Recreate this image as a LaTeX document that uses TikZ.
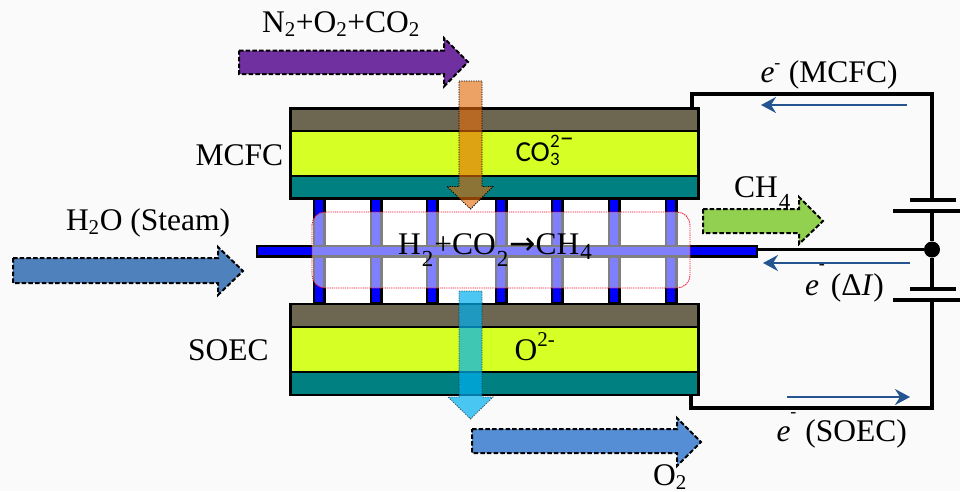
\documentclass[tikz,border=0pt]{standalone}
\usepackage{fontspec}
\setmainfont{Liberation Serif}
\newfontfamily\mathish{Carlito}
\newfontfamily\arrowf{DejaVu Sans}
\usetikzlibrary{arrows.meta}
\definecolor{bgc}{HTML}{FAFAFA}
\definecolor{brownc}{HTML}{6D6650}
\definecolor{yellowc}{HTML}{D5FF25}
\definecolor{tealc}{HTML}{008080}
\definecolor{ribc}{HTML}{0000FF}
\definecolor{bluewire}{HTML}{24558E}
\definecolor{zonec}{HTML}{F01030}
\tikzset{
  layer/.style={draw=black,line width=2.7pt,line join=miter},
  rib/.style={draw=black,fill=ribc,line width=2.2pt},
  wire/.style={draw=black,line width=3.8pt,line cap=butt,line join=miter},
  plate/.style={draw=black,line width=3.6pt},
  flow/.style={draw=black,line width=2pt,dash pattern=on 4.5pt off 2.2pt,line join=miter},
  thru/.style={draw=black,line width=.8pt,dash pattern=on 1.2pt off 1.2pt,line join=miter},
  current/.style={draw=bluewire,line width=2pt,-{Stealth[length=15pt,width=16pt,inset=5pt]}},
  lab/.style={inner sep=0pt,outer sep=0pt,font=\fontsize{31.5}{31.5}\selectfont,anchor=base west},
}
\newcommand{\sbb}[1]{\raisebox{-4.5pt}[0pt][0pt]{\fontsize{21}{21}\selectfont #1}\hspace{.6pt}}
\newcommand{\sbl}[1]{\hspace{1pt}\raisebox{-12.5pt}[0pt][0pt]{\fontsize{23}{23}\selectfont #1}\hspace{1pt}}
\newcommand{\sbn}[1]{\hspace{1pt}\raisebox{-5pt}[0pt][0pt]{\fontsize{23}{23}\selectfont #1}}
\newcommand{\spp}[1]{\raisebox{14pt}{\fontsize{21}{21}\selectfont #1}}
\begin{document}
\begin{tikzpicture}[x=1pt,y=-1pt]
\useasboundingbox (0,0) rectangle (960,491);
\fill[bgc] (0,0) rectangle (960,491);
% white cells
\fill[white] (319,199) rectangle (671,303);
% ribs
\foreach \x in {319,376,432,501,557,614,671}
  \draw[rib] (\x-5.4,199) rectangle (\x+5.4,303);
\draw[rib] (257,245.6) rectangle (757,256.4);
% MCFC
\draw[layer,fill=brownc] (290.3,108.8) rectangle (698.7,131);
\draw[layer,fill=yellowc] (290.3,131) rectangle (698.7,176);
\draw[layer,fill=tealc] (290.3,176) rectangle (698.7,198.5);
% SOEC
\draw[layer,fill=brownc] (290.3,304) rectangle (698.7,327);
\draw[layer,fill=yellowc] (290.3,327) rectangle (698.7,372);
\draw[layer,fill=tealc] (290.3,372) rectangle (698.7,395);
% reaction zone
\fill[white,fill opacity=.5,rounded corners=13pt] (312,212) rectangle (690,288);
\draw[zonec,line width=.9pt,dash pattern=on 1.3pt off .9pt,rounded corners=13pt] (312,212) rectangle (690,288);
% circuit
\coordinate (mcfcT) at (692,107);
\coordinate (tl) at (692,94);
\coordinate (tr) at (932,94);
\coordinate (p1) at (932,200);
\coordinate (p2) at (932,211);
\coordinate (p3) at (932,289);
\coordinate (p4) at (932,300);
\coordinate (br) at (932,408);
\coordinate (bl) at (691,408);
\coordinate (soecB) at (691,396);
\coordinate (stub) at (757,249.5);
\node[circle,fill=black,minimum size=16pt,inner sep=0pt] (dot) at (932,249.5) {};
\draw[wire] (mcfcT) -- (tl) -- (tr) -- (p1);
\draw[wire] (p2) -- (dot);
\draw[wire] (dot) -- (p3);
\draw[wire] (p4) -- (br) -- (bl) -- (soecB);
\draw[black,line width=3.4pt] (stub) -- (dot);
\draw[plate] (910,200) -- (956,200);
\draw[plate] (893,211) -- (960,211);
\draw[plate] (910,289) -- (956,289);
\draw[plate] (893,300) -- (960,300);
% current arrows
\coordinate (c1a) at (907,105); \coordinate (c1b) at (761,105);
\coordinate (c2a) at (910,263); \coordinate (c2b) at (763,263);
\coordinate (c3a) at (787,397); \coordinate (c3b) at (910,397);
\draw[current] (c1a) -- (c1b);
\draw[current] (c2a) -- (c2b);
\draw[current] (c3a) -- (c3b);
% block arrows
\draw[flow,fill={rgb,255:red,112;green,48;blue,160}] (239,50.5) -- (444,50.5) -- (444,38) -- (468,62) -- (444,86.5) -- (444,74) -- (239,74) -- cycle;
\draw[flow,fill={rgb,255:red,79;green,129;blue,189}] (13,258) -- (218,258) -- (218,247) -- (243,271) -- (218,295) -- (218,283) -- (13,283) -- cycle;
\draw[flow,fill={rgb,255:red,85;green,142;blue,213}] (472,429) -- (677,429) -- (677,418) -- (701,442) -- (677,466) -- (677,453) -- (472,453) -- cycle;
\draw[flow,fill={rgb,255:red,146;green,208;blue,80}] (703,209) -- (799,209) -- (799,197) -- (823,221) -- (799,244) -- (799,233) -- (703,233) -- cycle;
\draw[thru,fill={rgb,255:red,227;green,108;blue,9},fill opacity=.62] (459,81) -- (482,81) -- (482,186.5) -- (493,186.5) -- (470.5,209) -- (447,186.5) -- (459,186.5) -- cycle;
\draw[thru,draw opacity=.6,fill={rgb,255:red,0;green,176;blue,240},fill opacity=.7] (459,291) -- (482,291) -- (482,397) -- (493,397) -- (470.5,419) -- (448,397) -- (459,397) -- cycle;
% labels
\node[lab] (tN) at (262,32) {N\sbb{2}+O\sbb{2}+CO\sbb{2}};
\node[lab] (tM) at (195.5,165) {MCFC};
\node[lab] (tS) at (188,360) {SOEC};
\node[lab] (tW) at (66,230) {H\sbb{2}O (Steam)};
\node[lab] (tR) at (398,254) {H\sbl{2}+CO\sbl{2}{\arrowf →}CH\sbn{4}};
\node[lab] (tC) at (734,197) {CH\sbl{4}};
\node[lab] (tO) at (514.5,360.5) {O\spp{2-}};
\node[lab] (tOt) at (653,485) {O\sbb{2}};
\node[lab,font=\fontsize{29}{29}\mathish] (tCO) at (515.5,161) {CO};
\node[lab,font=\fontsize{19}{19}\mathish] (tCOa) at (550,147) {2};
\node[lab,font=\fontsize{19}{19}\mathish] (tCOb) at (550,165) {3};
\node[lab,font=\fontsize{27}{27}\mathish] (tCOc) at (560,147) {−};
\node[lab] (te1) at (760.5,82) {\textit{e}\raisebox{14pt}{\fontsize{18}{18}\selectfont -}\hspace{8.5pt}(MCFC)};
\node[lab] (te2) at (805,295) {\textit{e}\raisebox{26pt}{\fontsize{18}{18}\selectfont -}\hspace{6pt}(Δ\textit{I})};
\node[lab] (te3) at (776.5,441) {\textit{e}\raisebox{24pt}{\fontsize{18}{18}\selectfont -}\hspace{9pt}(SOEC)};
\end{tikzpicture}
\end{document}
